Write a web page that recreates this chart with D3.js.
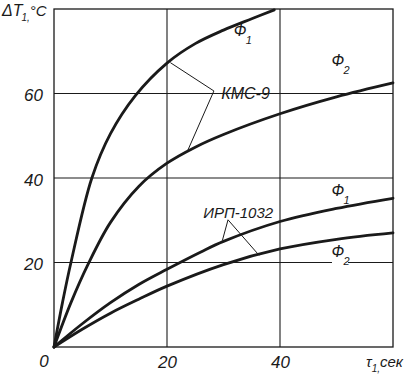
<!DOCTYPE html>
<html><head><meta charset="utf-8">
<script src="https://cdn.jsdelivr.net/npm/d3@7"></script>
<style>
body{margin:0;background:#fff;}
text{font-family:"Liberation Sans Narrow","Liberation Sans","DejaVu Sans",sans-serif;font-style:italic;fill:#1a1a1a;}
</style></head>
<body><svg id="c" width="413" height="378"></svg>
<script>
// Data
const xTicks = [20, 40];
const yTicks = [20, 40, 60];
const tKMC1 = [0, 1.5, 3, 6.7, 10, 14.4, 20, 25, 30, 35, 39];
const vKMC1 = [0, 10.5, 20, 40, 50.5, 59.5, 67.2, 71.8, 75, 77.7, 79.8];
const tKMC2 = [0, 3, 6, 10, 15, 20, 25, 30, 40, 50, 60];
const vKMC2 = [0, 10.5, 19.5, 29.5, 38, 43.5, 47.3, 50.3, 55.2, 59.2, 62.5];
const tIRP1 = [0, 5, 10, 15, 20, 26, 30, 40, 50, 60];
const vIRP1 = [0, 5.5, 10.5, 14.8, 18.4, 22.5, 25, 29.7, 32.8, 35.2];
const tIRP2 = [0, 5, 10, 15, 20, 30, 40, 50, 60];
const vIRP2 = [0, 4.2, 8, 11.3, 14.4, 19.5, 23.2, 25.5, 27];

const svg = d3.select("#c");
const x = d3.scaleLinear().domain([0, 60]).range([54, 393]);
const y = d3.scaleLinear().domain([0, 80]).range([347, 9]);
const ink = "#1a1a1a";

// grid
const g = svg.append("g");
g.selectAll(".vx").data(xTicks).join("line")
  .attr("x1", d => x(d)).attr("x2", d => x(d)).attr("y1", y(0)).attr("y2", y(80))
  .attr("stroke", ink).attr("stroke-width", 1.1);
g.selectAll(".hy").data(yTicks).join("line")
  .attr("x1", x(0)).attr("x2", x(60)).attr("y1", d => y(d)).attr("y2", d => y(d))
  .attr("stroke", ink).attr("stroke-width", 1.1);
// frame
g.append("rect").attr("x", x(0)).attr("y", y(80)).attr("width", x(60) - x(0)).attr("height", y(0) - y(80))
  .attr("fill", "none").attr("stroke", ink).attr("stroke-width", 1.3);

// axes labels via d3 axes
const ax = d3.axisBottom(x).tickValues(xTicks).tickSize(0).tickPadding(0).tickFormat(d3.format("d"));
const axG = svg.append("g").attr("transform", `translate(0,${y(0)})`).call(ax);
axG.select(".domain").remove();
axG.selectAll("text").attr("dy", null).attr("y", 21).attr("font-size", 17).style("font-family", null).attr("fill", ink);
const ay = d3.axisLeft(y).tickValues(yTicks).tickSize(0).tickPadding(0).tickFormat(d3.format("d"));
const ayG = svg.append("g").attr("transform", `translate(${x(0) - 11},0)`).call(ay);
ayG.select(".domain").remove();
ayG.selectAll("text").attr("dy", "0.42em").attr("font-size", 17).style("font-family", null).attr("fill", ink);
svg.append("text").attr("x", 44).attr("y", 367).attr("text-anchor", "middle").attr("font-size", 17).text("0");

// curves
const line = d3.line().x(d => x(d[0])).y(d => y(d[1])).curve(d3.curveCatmullRom.alpha(0.5));
const series = [[tKMC1, vKMC1], [tKMC2, vKMC2], [tIRP1, vIRP1], [tIRP2, vIRP2]];
svg.selectAll(".crv").data(series).join("path")
  .attr("d", s => line(s[0].map((t, i) => [t, s[1][i]])))
  .attr("fill", "none").attr("stroke", ink).attr("stroke-width", 2.8).attr("stroke-linecap", "round");

// leader lines
const lead = (pts) => svg.append("polyline").attr("points", pts.map(p => p.join(",")).join(" "))
  .attr("fill", "none").attr("stroke", ink).attr("stroke-width", 1);
lead([[x(20.6), y(67.3)], [x(28.3), y(60.6)], [x(23.7), y(46.6)]]);
lead([[x(29.8), y(25.2)], [x(30.8), y(30.1)], [x(36.3), y(21.7)]]);

// labels
function phi(px, py, sub) {
  svg.append("text").attr("x", px).attr("y", py).attr("font-size", 16).text("Ф");
  svg.append("text").attr("x", px + 12).attr("y", py + 8).attr("font-size", 11).text(sub);
}
phi(x(31.8), y(73.5), "1");
// gap in 20-grid under lower Φ2
svg.append("rect").attr("x", x(49.2)).attr("y", y(21.5)).attr("width", 16).attr("height", 8).attr("fill", "#fff");
phi(x(49.1), y(66.5), "2");
phi(x(49.1), y(35.8), "1");
phi(x(49.1), y(21.4), "2");
svg.append("text").attr("x", x(29.6)).attr("y", y(58.6)).attr("font-size", 16).text("КМС-9");
svg.append("text").attr("x", x(26.4)).attr("y", y(30.5)).attr("font-size", 15).text("ИРП-1032");

const yl = svg.append("text").attr("x", 2).attr("y", 16).attr("font-size", 16).text("ΔT");
yl.append("tspan").attr("dy", 5).attr("dx", -1).attr("font-size", 10).text("1,");
yl.append("tspan").attr("dy", -5).attr("font-size", 15).text("°C");
const xl = svg.append("text").attr("x", 366).attr("y", 367).attr("font-size", 15).text("τ");
xl.append("tspan").attr("dy", 5).attr("font-size", 10).text("1,");
xl.append("tspan").attr("dy", -5).text("сек");
</script></body></html>
